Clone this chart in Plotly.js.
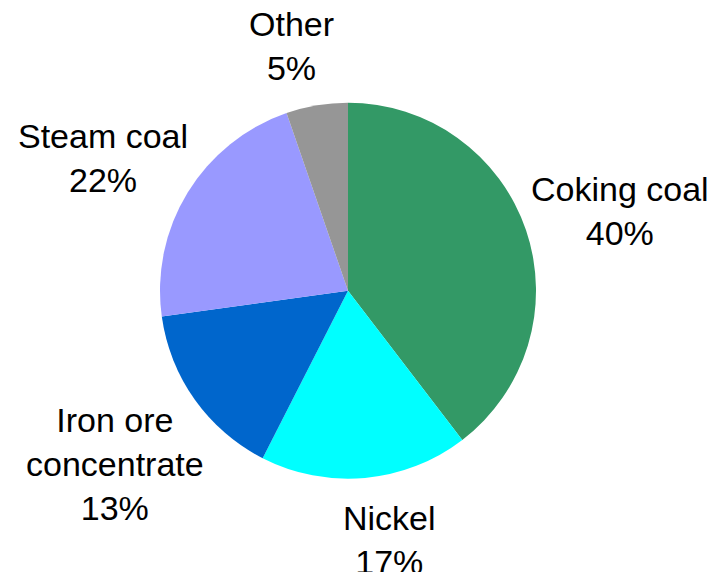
<!DOCTYPE html>
<html>
<head>
<meta charset="utf-8">
<script src="https://cdn.plot.ly/plotly-3.0.1.min.js"></script>
<style>html,body{margin:0;padding:0;background:#fff;}#chart{width:715px;height:572px;}</style>
</head>
<body>
<div id="chart"></div>
<script>
// Data
const categories = ["Coking coal", "Nickel", "Iron ore<br>concentrate", "Steam coal", "Other"];
const shares = [39.6, 17.9, 15.3, 21.9, 5.3];          // slice sizes as drawn
const shareLabels = ["40%", "17%", "13%", "22%", "5%"];  // percentages as printed
const colors = ["#339966", "#00FFFF", "#0066CC", "#9999FF", "#969696"];

const W = 715, H = 572;
// Label placement (pixel centres) for each category, in order
const labelPos = [[620, 211], [389, 540], [115, 464], [103, 158], [291, 46]];

const cx = 348, cy = 290.7, r = 188;

const trace = {
  type: "pie",
  values: shares,
  labels: categories,
  sort: false,
  direction: "clockwise",
  rotation: 0,
  textinfo: "none",
  hoverinfo: "label+percent",
  marker: { colors: colors, line: { width: 0 } },
  domain: {
    x: [(cx - r) / W, (cx + r) / W],
    y: [(H - cy - r) / H, (H - cy + r) / H]
  },
  showlegend: false
};

const annotations = categories.map((c, i) => ({
  text: c + "<br>" + shareLabels[i],
  x: labelPos[i][0] / W,
  y: 1 - labelPos[i][1] / H,
  xref: "paper", yref: "paper",
  xanchor: "center", yanchor: "middle",
  showarrow: false,
  align: "center",
  font: { family: "Liberation Sans, Arial, sans-serif", size: 34, color: "#000000" }
}));

const layout = {
  width: W, height: H,
  margin: { l: 0, r: 0, t: 0, b: 0 },
  paper_bgcolor: "#ffffff",
  plot_bgcolor: "#ffffff",
  showlegend: false,
  annotations: annotations
};

Plotly.newPlot("chart", [trace], layout, { displayModeBar: false, staticPlot: true });
</script>
</body>
</html>
